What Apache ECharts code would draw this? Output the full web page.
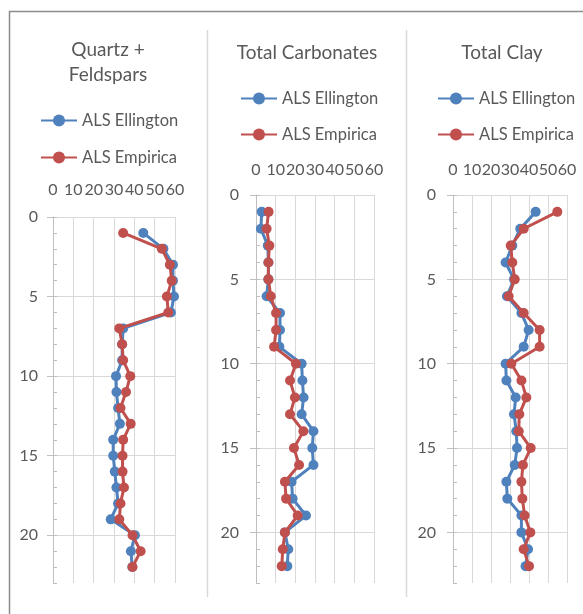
<!DOCTYPE html>
<html><head><meta charset="utf-8">
<script src="https://cdn.jsdelivr.net/npm/echarts@6/dist/echarts.min.js"></script>
<style>html,body{margin:0;padding:0;background:#fff}#c{width:583px;height:614px}</style>
</head><body><div id="c"></div>
<script>
const depths = [1,2,3,4,5,6,7,8,9,10,11,12,13,14,15,16,17,18,19,20,21,22];
const seriesNames = ['ALS Ellington','ALS Empirica'];
const panelTitles = ['Quartz +\nFeldspars','Total Carbonates','Total Clay'];
const xTicks = [0,10,20,30,40,50,60];
const yTicks = [0,5,10,15,20];

const qfEllington = [44.4,54.3,59,59,59.5,58,34.5,34,34,31,31.2,32,32.9,29.6,29.6,30.4,31.2,32,28.4,40.3,38.3,39];
const qfEmpirica  = [34.5,53.5,57.5,58.4,56,56.7,32.6,34,34.5,38,35.9,33.2,38.2,34.5,34.2,34.2,34.9,33.2,32.6,39.1,43.1,39.1];
const carbEllington = [2.9,2.5,6,6.3,6.3,5.4,12.2,12.2,11.9,23.2,23.6,24.2,23.2,29.2,28.6,29.2,18.1,18.6,25.4,14.7,16.4,15.9];
const carbEmpirica  = [6.4,5.4,6.8,6.3,6.3,7.5,10.2,10.2,9.2,20.3,17.3,19.8,17.3,24.1,19.3,21.9,14.7,15.3,21.2,14.7,13.6,13.1];
const clayEllington = [43.5,35.4,31.2,27.7,32.1,28.4,36,39.8,37.2,27.7,28.1,33,32.1,33.3,33.7,32.5,28.1,28.6,36,36,39.5,38.2];
const clayEmpirica  = [54.9,37.2,30.4,31.2,32.5,29.3,37.2,45.6,45.6,30.7,36,38.6,34.9,34.6,40.9,36.8,36,36.5,37.7,40.7,37.2,40];

const panelData = [[qfEllington,qfEmpirica],[carbEllington,carbEmpirica],[clayEllington,clayEmpirica]];
const colors = ['#4F81BD','#C0504D'];
const FONT = 'Lato, "Open Sans", sans-serif';
const TXT = '#595959';

const grids = [
  {left:53, top:217, width:122, height:366},
  {left:256, top:195, width:118, height:388},
  {left:453, top:195, width:114, height:388}
];
const titlePos = [[108,62],[307,53],[502,53]];
const legendPos = [[40,112,20],[240,90,19],[437,90,19]];
const xLabelMargin = [19,17,17];
const yLabelMargin = [15,17,17];

const xAxes=[], yAxes=[], series=[], legends=[], graphics=[];
grids.forEach((g,i)=>{
  xAxes.push({gridIndex:i,type:'value',position:'top',min:xTicks[0],max:xTicks[xTicks.length-1],interval:10,
    axisLine:{show:true,lineStyle:{color:'#d9d9d9',width:1}},axisTick:{show:false},
    axisLabel:{color:TXT,fontSize:16,fontFamily:FONT,margin:xLabelMargin[i],hideOverlap:false},
    splitLine:{show:true,lineStyle:{color:'#d9d9d9',width:1}}});
  yAxes.push({gridIndex:i,type:'value',position:'left',inverse:true,min:0,max:23,interval:5,
    axisLine:{show:true,onZero:false,lineStyle:{color:'#bfbfbf',width:1}},
    axisTick:{show:true,length:6,lineStyle:{color:'#bfbfbf'}},
    axisLabel:{color:TXT,fontSize:16,fontFamily:FONT,margin:yLabelMargin[i],showMaxLabel:false,
      formatter:v=>yTicks.includes(v)?String(v):''},
    splitLine:{show:true,showMaxLine:false,lineStyle:{color:'#d9d9d9',width:1}}});
  yAxes.push({gridIndex:i,type:'value',position:'left',offset:0,inverse:true,min:0,max:23,interval:1,
    axisLine:{show:false},axisTick:{show:true,inside:true,length:4,lineStyle:{color:'#bfbfbf'}},
    axisLabel:{show:false},splitLine:{show:false}});
  panelData[i].forEach((vals,s)=>{
    series.push({type:'line',name:seriesNames[s],xAxisIndex:i,yAxisIndex:2*i,
      data:depths.map((d,k)=>[vals[k],d]),
      symbol:'circle',symbolSize:10,showSymbol:true,
      lineStyle:{color:colors[s],width:3},itemStyle:{color:colors[s]},
      animation:false,z:2+s});
  });
  legends.push({orient:'vertical',left:legendPos[i][0],top:legendPos[i][1],itemGap:legendPos[i][2],
    itemWidth:36,itemHeight:15,data:seriesNames,selectedMode:false,padding:0,
    textStyle:{color:TXT,fontSize:16.5,fontFamily:FONT,padding:[0,0,0,0]}});
  graphics.push({type:'text',x:titlePos[i][0],y:titlePos[i][1],
    style:{text:panelTitles[i],align:'center',verticalAlign:'middle',fill:TXT,
      font:'19px '+FONT,lineHeight:25}});
});
graphics.push({type:'polyline',shape:{points:[[9.5,614],[9.5,11.5],[583,11.5]]},style:{stroke:'#8c8c8c',lineWidth:1.5,fill:null}});
graphics.push({type:'line',shape:{x1:207.5,y1:30,x2:207.5,y2:597},style:{stroke:'#d9d9d9',lineWidth:1.5}});
graphics.push({type:'line',shape:{x1:406.5,y1:30,x2:406.5,y2:597},style:{stroke:'#d9d9d9',lineWidth:1.5}});

const chart = echarts.init(document.getElementById('c'),null,{renderer:'canvas'});
chart.setOption({animation:false,color:colors,grid:grids,xAxis:xAxes,yAxis:yAxes,series:series,legend:legends,graphic:graphics});
</script></body></html>
